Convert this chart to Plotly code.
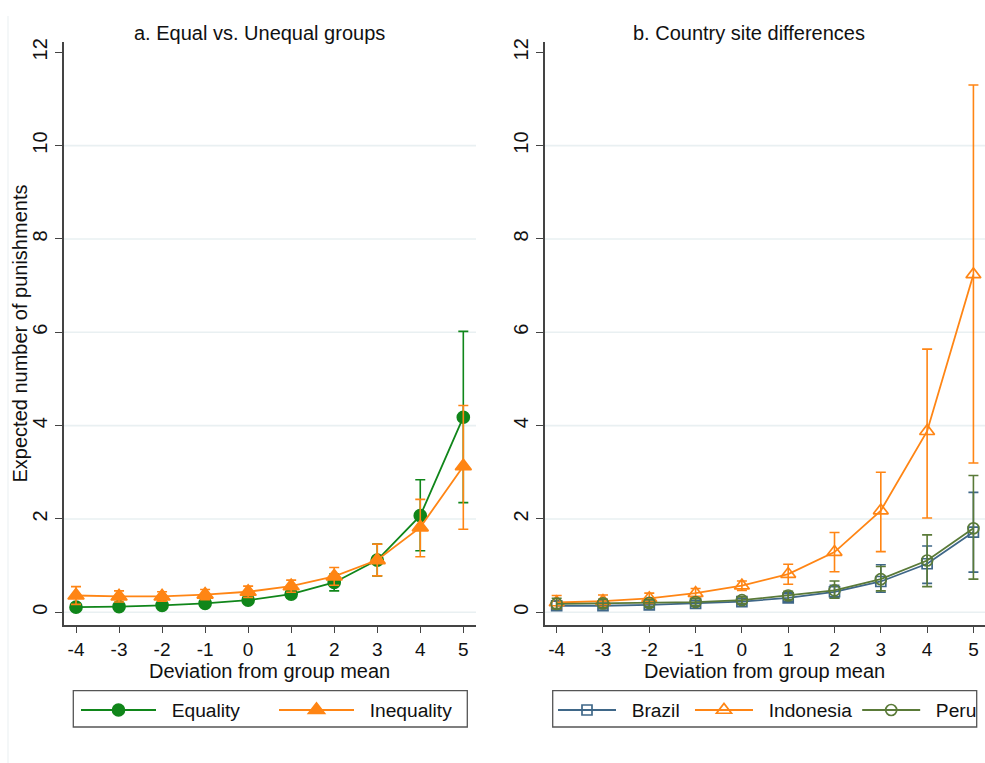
import plotly.graph_objects as go

# Deviation from group mean (x axis)
deviation = [-4, -3, -2, -1, 0, 1, 2, 3, 4, 5]
deviation_labels = ["-4", "-3", "-2", "-1", "0", "1", "2", "3", "4", "5"]

# Panel a: equal vs. unequal groups (estimate, lower and upper CI)
equality = [0.11, 0.12, 0.15, 0.19, 0.26, 0.39, 0.64, 1.12, 2.07, 4.18]
equality_lo = [0.05, 0.07, 0.09, 0.13, 0.20, 0.31, 0.46, 0.78, 1.32, 2.35]
equality_hi = [0.17, 0.17, 0.21, 0.25, 0.32, 0.47, 0.82, 1.46, 2.84, 6.02]

inequality = [0.36, 0.34, 0.34, 0.38, 0.44, 0.56, 0.77, 1.12, 1.82, 3.13]
inequality_lo = [0.17, 0.22, 0.24, 0.27, 0.32, 0.43, 0.58, 0.78, 1.19, 1.78]
inequality_hi = [0.55, 0.46, 0.44, 0.49, 0.56, 0.69, 0.96, 1.46, 2.42, 4.43]

# Panel b: country sites
brazil = [0.14, 0.14, 0.16, 0.19, 0.23, 0.31, 0.44, 0.66, 1.04, 1.72]
brazil_lo = [0.06, 0.07, 0.10, 0.13, 0.17, 0.23, 0.31, 0.43, 0.62, 0.86]
brazil_hi = [0.24, 0.22, 0.22, 0.25, 0.29, 0.40, 0.58, 1.02, 1.42, 2.57]

indonesia = [0.21, 0.24, 0.30, 0.41, 0.57, 0.82, 1.29, 2.18, 3.88, 7.24]
indonesia_lo = [0.08, 0.12, 0.19, 0.31, 0.47, 0.60, 0.87, 1.30, 2.02, 3.20]
indonesia_hi = [0.36, 0.37, 0.41, 0.51, 0.67, 1.03, 1.71, 3.00, 5.64, 11.30]

peru = [0.18, 0.19, 0.20, 0.22, 0.26, 0.36, 0.47, 0.71, 1.11, 1.80]
peru_lo = [0.08, 0.10, 0.12, 0.15, 0.19, 0.27, 0.30, 0.46, 0.55, 0.71]
peru_hi = [0.30, 0.28, 0.27, 0.29, 0.33, 0.45, 0.67, 0.98, 1.66, 2.93]

y_ticks = [0, 2, 4, 6, 8, 10, 12]
grid_values = [0, 2, 4, 6, 8, 10]

panel_titles = ["a. Equal vs. Unequal groups", "b. Country site differences"]
x_title = "Deviation from group mean"
y_title = "Expected number of punishments"

GREEN = "#10861a"
ORANGE = "#ff8514"
BLUE = "#3f6788"
OLIVE = "#5a7a38"
AXIS = "#444444"
GRID = "#e9f0f2"
FONT = "Liberation Sans, Arial, sans-serif"
FS = 20
TICK_FS = 19
LEG_FS = 19.2

W, H = 985, 763
NB = "\u00a0"


def px_x(p):
    return p / W


def px_y(p):
    return 1 - p / H


def series(x, y, lo, hi, name, color, symbol, size, xa, ya, legend):
    return go.Scatter(
        x=x, y=y, name=name, mode="lines+markers",
        xaxis=xa, yaxis=ya, legend=legend,
        line=dict(color=color, width=1.8),
        marker=dict(color=color, symbol=symbol, size=size,
                    line=dict(color=color, width=1.7)),
        error_y=dict(type="data", symmetric=False,
                     array=[h - v for h, v in zip(hi, y)],
                     arrayminus=[v - l for v, l in zip(y, lo)],
                     color=color, thickness=1.6, width=5),
    )


fig = go.Figure()
fig.add_trace(series(deviation, equality, equality_lo, equality_hi,
                     NB * 2 + "Equality", GREEN, "circle", 12, "x", "y", "legend"))
fig.add_trace(series(deviation, inequality, inequality_lo, inequality_hi,
                     NB * 2 + "Inequality", ORANGE, "triangle-up", 14, "x", "y", "legend"))
fig.add_trace(series(deviation, brazil, brazil_lo, brazil_hi,
                     NB * 2 + "Brazil" + NB, BLUE, "square-open", 10, "x2", "y2", "legend2"))
fig.add_trace(series(deviation, indonesia, indonesia_lo, indonesia_hi,
                     NB * 2 + "Indonesia", ORANGE, "triangle-up-open", 13, "x2", "y2", "legend2"))
fig.add_trace(series(deviation, peru, peru_lo, peru_hi,
                     NB * 2 + "Peru", OLIVE, "circle-open", 11, "x2", "y2", "legend2"))

# horizontal grid lines behind the data
for ya, xa in (("y", "x"), ("y2", "x2")):
    for g in grid_values:
        fig.add_shape(type="line", xref=f"{xa} domain", yref=ya, x0=0, x1=1,
                      y0=g, y1=g, line=dict(color=GRID, width=1.6), layer="below")

x_tick_font = dict(family=FONT, size=TICK_FS, color="#111111")
y_tick_font = dict(family=FONT, size=FS, color="#111111")
y_dom = [px_y(625), px_y(42)]
common_x = dict(tickvals=deviation, ticktext=deviation_labels, ticks="outside",
                ticklen=6, tickwidth=1.3, tickcolor=AXIS, showline=True,
                linecolor=AXIS, linewidth=1.5, showgrid=False, zeroline=False,
                tickfont=x_tick_font, automargin=False)
common_y = dict(tickvals=y_ticks, ticks="outside", ticklen=7, tickwidth=1.3,
                tickcolor=AXIS, showline=True, linecolor=AXIS, linewidth=1.5,
                showgrid=False, zeroline=False, tickangle=-90,
                range=[-0.272, 12.22], domain=y_dom, tickfont=y_tick_font,
                automargin=False)

fig.update_layout(
    width=W, height=H,
    margin=dict(l=0, r=0, t=0, b=0, autoexpand=False),
    paper_bgcolor="white", plot_bgcolor="white",
    font=dict(family=FONT, size=FS, color="#111111"),
    xaxis=dict(domain=[px_x(64), px_x(476)], range=[-4.279, 5.295],
               anchor="y", **common_x),
    yaxis=dict(anchor="x", **common_y),
    xaxis2=dict(domain=[px_x(544.5), 1.0], range=[-4.263, 5.25],
                anchor="y2", **common_x),
    yaxis2=dict(anchor="x2", **common_y),
    legend=dict(orientation="h", x=px_x(76), y=px_y(691), xanchor="left",
                yanchor="top", bgcolor="rgba(0,0,0,0)", borderwidth=0,
                itemwidth=75, entrywidth=108, font=dict(family=FONT, size=LEG_FS),
                traceorder="normal", itemclick=False),
    legend2=dict(orientation="h", x=px_x(553), y=px_y(691), xanchor="left",
                 yanchor="top", bgcolor="rgba(0,0,0,0)", borderwidth=0,
                 itemwidth=58, font=dict(family=FONT, size=LEG_FS),
                 traceorder="normal", itemclick=False),
    showlegend=True,
)

# legend frames
for x0, x1 in ((73.3, 467.3), (552.7, 976.7)):
    fig.add_shape(type="rect", xref="paper", yref="paper",
                  x0=px_x(x0), x1=px_x(x1), y0=px_y(727), y1=px_y(690.7),
                  line=dict(color="#555555", width=1.3), fillcolor="rgba(0,0,0,0)")

# faint outer edge of the graph region
fig.add_shape(type="line", xref="paper", yref="paper", x0=px_x(8), x1=px_x(8),
              y0=0, y1=px_y(16), line=dict(color="#edf2f3", width=1.2))

# panel titles
for text, cx in zip(panel_titles, (259, 749)):
    fig.add_annotation(text=text, xref="paper", yref="paper", x=px_x(cx), y=px_y(33),
                       showarrow=False, font=dict(family=FONT, size=FS, color="#111111"),
                       xanchor="center", yanchor="middle")

# x axis titles
for cx in (269.5, 764.7):
    fig.add_annotation(text=x_title, xref="paper", yref="paper", x=px_x(cx), y=px_y(671),
                       showarrow=False, font=dict(family=FONT, size=FS, color="#111111"),
                       xanchor="center", yanchor="middle")

# y axis title
fig.add_annotation(text=y_title, xref="paper", yref="paper", x=px_x(19), y=px_y(333.5),
                   showarrow=False, textangle=-90,
                   font=dict(family=FONT, size=FS, color="#111111"),
                   xanchor="center", yanchor="middle")

fig.write_html("out.html")
